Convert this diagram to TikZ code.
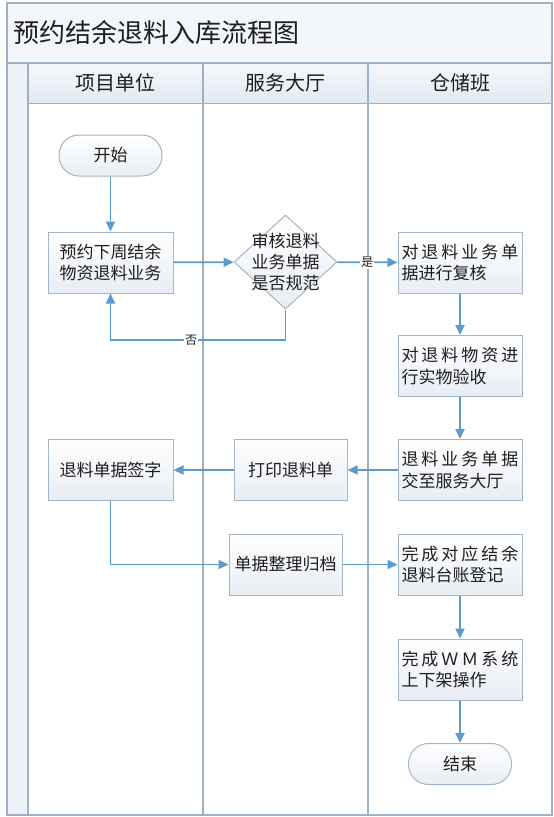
\documentclass[tikz,border=0pt]{standalone}
\usepackage{fontspec}
\setmainfont{Noto Sans CJK SC}
\usetikzlibrary{shapes.geometric,arrows.meta}
\definecolor{frameline}{HTML}{9DB0C4}
\definecolor{arrowc}{HTML}{5B9BD0}
\definecolor{boxline}{HTML}{A3B5C8}
\definecolor{boxbot}{HTML}{E8EDF4}
\definecolor{hdrtop}{HTML}{F5F8FB}
\definecolor{hdrbot}{HTML}{E2E9F1}
\definecolor{titlefill}{HTML}{F3F6FA}
\definecolor{gutterfill}{HTML}{EDF2F9}
\definecolor{txt}{HTML}{1E1E1E}
\begin{document}
\begin{tikzpicture}[x=1pt,y=-1pt,
  procbox/.style={draw=boxline, line width=1pt, top color=white, bottom color=boxbot,
    minimum height=61pt, inner sep=0pt, text=txt,
    font=\fontsize{17pt}{21.5pt}\selectfont, align=center},
  rightbox/.style={procbox, minimum width=124pt, text width=117pt, align=left},
  termbox/.style={draw=boxline, line width=1pt, top color=white, bottom color=boxbot,
    rounded corners=20pt, minimum width=103pt, minimum height=41pt, inner sep=0pt,
    text=txt, font=\fontsize{17pt}{21pt}\selectfont},
  decbox/.style={diamond, draw=boxline, line width=1pt, top color=white, bottom color=boxbot,
    minimum width=103pt, minimum height=94pt, inner sep=0pt},
  dectext/.style={text=txt, font=\fontsize{17pt}{21pt}\selectfont, align=center, inner sep=0pt},
  lanehead/.style={draw=frameline, line width=1pt, top color=hdrtop, bottom color=hdrbot,
    text=txt, font=\fontsize{20pt}{22pt}\selectfont, inner sep=0pt},
  arr/.style={draw=arrowc, line width=1.8pt, -{Triangle[length=10pt,width=9pt]}},
  lbl/.style={fill=white, text=txt, font=\fontsize{12pt}{13pt}\selectfont, inner sep=1pt},
  laneline/.style={draw=frameline, line width=1.1pt}
]
\useasboundingbox (0,0) rectangle (554,817);
\fill[white] (0,0) rectangle (554,817);

% frame
\path[fill=titlefill] (7,3) rectangle (552,63);
\path[fill=gutterfill] (7,63) rectangle (28,815);
\node[lanehead, minimum width=175pt, minimum height=40pt] (h1) at (115.5,83) {项目单位};
\node[lanehead, minimum width=165pt, minimum height=40pt] (h2) at (285.5,83) {服务大厅};
\node[lanehead, minimum width=184pt, minimum height=40pt] (h3) at (460,83) {仓储班};
\draw[laneline] (7,3) rectangle (552,815);
\draw[laneline] (7,63) -- (552,63);
\draw[laneline] (28,63) -- (28,815);
\draw[laneline] (203,63) -- (203,815);
\draw[laneline] (368,63) -- (368,815);
\node[anchor=west, text=txt, font=\fontsize{26pt}{28pt}\selectfont, inner sep=0pt] (title) at (13,33) {预约结余退料入库流程图};

% nodes
\node[termbox] (start) at (110.5,155.5) {开始};
\node[procbox, minimum width=125pt] (b1) at (110.5,262.5) {预约下周结余\\物资退料业务};
\node[decbox] (d) at (285.5,262) {};
\node[dectext] (dt) at (d.center) {审核退料\\业务单据\\是否规范};
\node[rightbox] (b3) at (460,262.5) {\makebox[117pt][s]{对\hfil 退\hfil 料\hfil 业\hfil 务\hfil 单}\\据进行复核};
\node[rightbox] (b4) at (460,366) {\makebox[117pt][s]{对\hfil 退\hfil 料\hfil 物\hfil 资\hfil 进}\\行实物验收};
\node[rightbox] (b5) at (460,470) {\makebox[117pt][s]{退\hfil 料\hfil 业\hfil 务\hfil 单\hfil 据}\\交至服务大厅};
\node[procbox, minimum width=113pt] (print) at (290.5,470) {打印退料单};
\node[procbox, minimum width=125pt] (sign) at (110.5,470) {退料单据签字};
\node[procbox, minimum width=113pt] (arch) at (285.5,564.5) {单据整理归档};
\node[rightbox] (b7) at (460,564.5) {\makebox[117pt][s]{完\hfil 成\hfil 对\hfil 应\hfil 结\hfil 余}\\退料台账登记};
\node[rightbox] (b8) at (460,669.5) {\makebox[117pt][s]{完\hfil 成\hfil Ｗ\hfil Ｍ\hfil 系\hfil 统}\\上下架操作};
\node[termbox] (end) at (460,764) {结束};

% connectors
\coordinate (nocorner) at (285.5,340);
\draw[arr] (start) -- (b1);
\draw[arr] (b1) -- (d);
\draw[arr] (d) -- node[lbl, pos=0.5] {是} (b3);
\draw[arr] (d.south) -- (nocorner) -| node[lbl, pos=0.27] {否} (b1.south);
\draw[arr] (b3) -- (b4);
\draw[arr] (b4) -- (b5);
\draw[arr] (b5) -- (print);
\draw[arr] (print) -- (sign);
\draw[arr] (sign.south) |- (arch.west);
\draw[arr] (arch) -- (b7);
\draw[arr] (b7) -- (b8);
\draw[arr] (b8) -- (end);
\end{tikzpicture}
\end{document}
